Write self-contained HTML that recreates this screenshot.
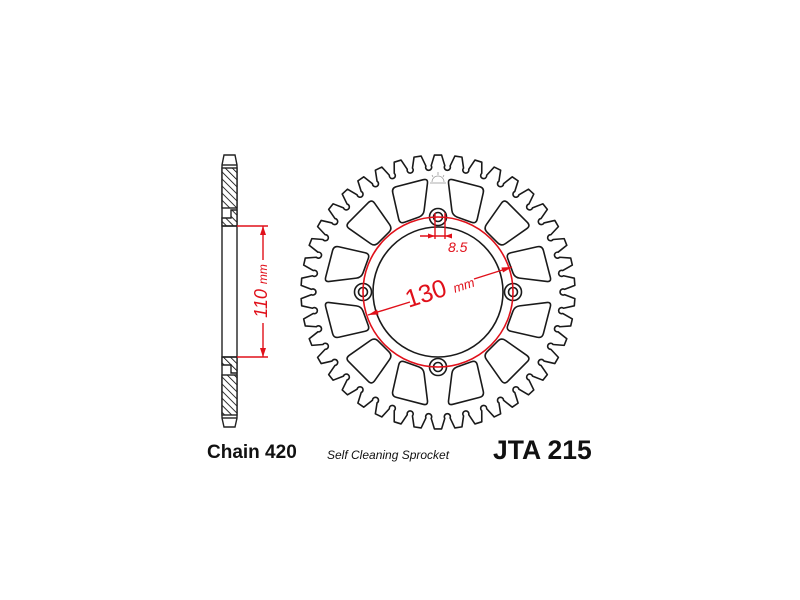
<!DOCTYPE html>
<html><head><meta charset="utf-8"><style>
html,body{margin:0;padding:0;background:#fff;width:800px;height:600px;overflow:hidden}
svg{display:block}
</style></head><body>
<svg id="s" width="800" height="600" viewBox="0 0 800 600" xmlns="http://www.w3.org/2000/svg" font-family="Liberation Sans, sans-serif">
<defs>
<pattern id="h" width="5" height="5" patternUnits="userSpaceOnUse" patternTransform="rotate(-45)">
<rect width="5" height="5" fill="#fff"/><line x1="0" y1="0" x2="0" y2="5" stroke="#000" stroke-width="1.6"/></pattern>
</defs>
<g stroke="#222" stroke-width="1.4" fill="none">
<path d="M224,155 L235,155 L237,165 L237,418 L235,427 L224,427 L222,418 L222,165 Z" fill="#fff"/>
<line x1="222" y1="165" x2="237" y2="165"/><line x1="222" y1="418" x2="237" y2="418"/>
<rect x="222" y="168" width="15" height="40" fill="url(#h)"/>
<path d="M222,218 L231,218 L231,210 L237,210 L237,226 L222,226 Z" fill="url(#h)"/>
<rect x="222" y="375" width="15" height="40" fill="url(#h)"/>
<path d="M222,357 L237,357 L237,373 L231,373 L231,365 L222,365 Z" fill="url(#h)"/>
<line x1="222" y1="226" x2="237" y2="226"/><line x1="222" y1="357" x2="237" y2="357"/>
</g>
<g stroke="#e0101a" stroke-width="1.4" fill="#e0101a">
<line x1="237" y1="226" x2="268" y2="226"/><line x1="237" y1="357" x2="268" y2="357"/>
<line x1="263" y1="226" x2="263" y2="260" /><line x1="263" y1="323" x2="263" y2="357"/>
<path d="M263,226 l-3,9 l6,0 z" stroke="none"/><path d="M263,357 l-3,-9 l6,0 z" stroke="none"/>
</g>
<text transform="translate(267,291) rotate(-90)" text-anchor="middle" fill="#e0101a" font-size="18" font-style="italic">110 <tspan font-size="12">mm</tspan></text>

<g id="spr" fill="none" stroke="#1a1a1a" stroke-width="1.6" stroke-linejoin="round"></g>
<circle cx="438" cy="292" r="75" fill="none" stroke="#e0101a" stroke-width="1.6"/>
<g stroke="#e0101a" stroke-width="1.4" fill="#e0101a">
<line x1="435" y1="213" x2="435" y2="239"/><line x1="445" y1="213" x2="445" y2="239"/>
<line x1="420" y1="236" x2="452" y2="236"/>
<path d="M435,236 l-7,-2.5 l0,5z" stroke="none"/><path d="M445,236 l7,-2.5 l0,5z" stroke="none"/>
<line x1="368" y1="315" x2="410" y2="302"/><line x1="474" y1="279" x2="512" y2="267"/>
<path d="M368,315 l9,-5.5 l1.6,5z" stroke="none"/><path d="M512,267 l-9,5.5 l-1.6,-5z" stroke="none"/>
</g>
<text x="448" y="252" fill="#e0101a" font-size="14" font-style="italic">8.5</text>
<text transform="translate(442,297) rotate(-18)" text-anchor="middle" fill="#e0101a" font-size="25">130 <tspan font-size="13" font-style="italic">mm</tspan></text>
<g stroke="#999" stroke-width="0.8" fill="none"><path d="M432,182 a6,6 0 0 1 12,0"/><line x1="430" y1="183" x2="446" y2="183"/><line x1="438" y1="172" x2="438" y2="175"/><line x1="432" y1="175" x2="433" y2="177"/><line x1="444" y1="175" x2="443" y2="177"/></g>

<text x="207" y="458" font-size="19" font-weight="bold" fill="#111">Chain 420</text>
<text x="327" y="459" font-size="12" font-style="italic" fill="#111">Self Cleaning Sprocket</text>
<text x="493" y="459" font-size="26.5" font-weight="bold" fill="#111">JTA 215</text>
</svg>
<script>
(function(){
var cx=438,cy=292,g=document.getElementById('spr'),NS='http://www.w3.org/2000/svg';
function P(r,a){a=(a-90)*Math.PI/180;return [cx+r*Math.cos(a),cy+r*Math.sin(a)];}
function f(p){return p[0].toFixed(2)+','+p[1].toFixed(2);}
function add(tag,attrs){var e=document.createElementNS(NS,tag);for(var k in attrs)e.setAttribute(k,attrs[k]);g.appendChild(e);return e;}
var N=42,st=360/N,d='';
for(var i=0;i<N;i++){
 var t=i*st,v=t+st/2;
 var a=P(137,t-1.5),b=P(137,t+1.5),c=P(126.5,v-1.2),e=P(126.5,v+1.2);
 d+=(i==0?'M':'L')+f(a)+' L'+f(b)+' L'+f(c)+' A3,3 0 1 0 '+f(e)+' ';
}
d+='Z';add('path',{d:d});
add('circle',{cx:cx,cy:cy,r:65});
[0,90,180,270].forEach(function(a){var p=P(75,a);add('circle',{cx:p[0],cy:p[1],r:8.5});add('circle',{cx:p[0],cy:p[1],r:4.5});});
function rp(pts,rad){var s='';for(var i=0;i<pts.length;i++){var p=pts[i],pr=pts[(i+pts.length-1)%pts.length],nx=pts[(i+1)%pts.length];
 function tw(q,r){var dx=q[0]-p[0],dy=q[1]-p[1],l=Math.hypot(dx,dy);return [p[0]+dx/l*r,p[1]+dy/l*r];}
 var a=tw(pr,rad),b=tw(nx,rad);s+=(i==0?'M':'L')+f(a)+' Q'+f(p)+' '+f(b)+' ';}return s+'Z';}
// windows: [outer center, inner center] within a quadrant (0..90)
var ws=[[14.5,20],[45,45],[75.5,70]];
for(var q=0;q<4;q++){ws.forEach(function(w){
 var ao=q*90+w[0],ai=q*90+w[1];
 var ri=78,ro=114,hi=9.3,ho=9.5;
 var pts=[P(ri,ai-hi),P(ro,ao-ho),P(ro,ao+ho),P(ri,ai+hi)];
 add('path',{d:rp(pts,5)});});}
})();
</script>
</body></html>
